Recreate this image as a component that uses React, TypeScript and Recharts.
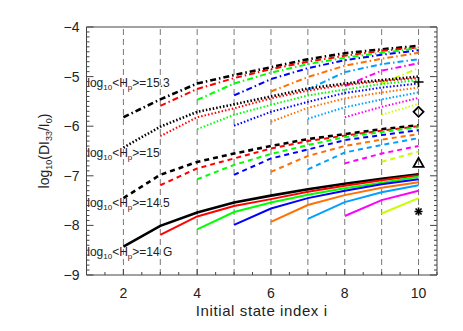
import React from 'react';
import { ComposedChart, Line, Scatter, XAxis, YAxis, ReferenceLine } from 'recharts';

// start index of each curve, and its colour
const startIdx = [2, 3, 4, 5, 6, 7, 8, 9];
const lineColors = ['#000000', '#ff0000', '#00ff00', '#0000ff', '#ff7000', '#00a0ff', '#ff00ff', '#c8ff00'];

// log10(DI33/I0) from start index up to i = 10, one row per start index
const hp14 = [
  [-8.43, -8.01, -7.74, -7.54, -7.40, -7.27, -7.16, -7.06, -6.97],
  [-8.19, -7.82, -7.61, -7.47, -7.32, -7.20, -7.09, -6.99],
  [-8.08, -7.73, -7.54, -7.38, -7.25, -7.14, -7.02],
  [-7.99, -7.66, -7.45, -7.30, -7.17, -7.07],
  [-7.93, -7.59, -7.39, -7.24, -7.13],
  [-7.87, -7.53, -7.33, -7.19],
  [-7.81, -7.49, -7.30],
  [-7.76, -7.45],
];
const hp145 = [
  [-7.45, -6.98, -6.72, -6.55, -6.40, -6.26, -6.16, -6.06, -5.98],
  [-7.19, -6.85, -6.65, -6.45, -6.30, -6.19, -6.09, -6.00],
  [-7.07, -6.78, -6.56, -6.38, -6.22, -6.12, -6.02],
  [-6.98, -6.65, -6.47, -6.28, -6.18, -6.08],
  [-6.92, -6.60, -6.40, -6.27, -6.16],
  [-6.87, -6.53, -6.38, -6.24],
  [-6.75, -6.55, -6.40],
  [-6.72, -6.51],
];
const hp15 = [
  [-6.43, -6.01, -5.71, -5.56, -5.40, -5.24, -5.14, -5.07, -5.00],
  [-6.20, -5.82, -5.64, -5.44, -5.28, -5.17, -5.09, -5.03],
  [-6.06, -5.77, -5.57, -5.38, -5.26, -5.15, -5.07],
  [-5.99, -5.71, -5.51, -5.33, -5.22, -5.14],
  [-5.91, -5.63, -5.44, -5.32, -5.22],
  [-5.85, -5.62, -5.46, -5.32],
  [-5.82, -5.61, -5.43],
  [-5.77, -5.55],
];
const hp153 = [
  [-5.82, -5.46, -5.14, -4.97, -4.81, -4.65, -4.53, -4.45, -4.38],
  [-5.59, -5.25, -5.03, -4.85, -4.70, -4.58, -4.48, -4.41],
  [-5.47, -5.14, -4.92, -4.75, -4.62, -4.52, -4.43],
  [-5.38, -5.05, -4.83, -4.67, -4.56, -4.47],
  [-5.30, -5.01, -4.78, -4.64, -4.52],
  [-5.26, -4.91, -4.75, -4.65],
  [-5.19, -4.88, -4.73],
  [-5.14, -4.83],
];

const groups = [
  { name: '15.3', rows: hp153, dash: '6 3 1.5 3' },
  { name: '15', rows: hp15, dash: '1.5 2' },
  { name: '14.5', rows: hp145, dash: '5 4' },
  { name: '14', rows: hp14, dash: undefined as string | undefined },
];

const markers = [
  { x: 10, y: -5.11, kind: 'plus' },
  { x: 10, y: -5.71, kind: 'diamond' },
  { x: 10, y: -6.74, kind: 'triangle' },
  { x: 10, y: -7.72, kind: 'star' },
];

const hpLabels = [
  { x: 1.02, y: -5.13, value: '15.3', extra: '' },
  { x: 1.02, y: -6.54, value: '15', extra: '' },
  { x: 1.02, y: -7.55, value: '14.5', extra: '' },
  { x: 1.02, y: -8.53, value: '14', extra: ' G' },
];

const gridX = [2, 3, 4, 5, 6, 7, 8, 9, 10];
const xTicks = Array.from({ length: 20 }, (_, k) => 1 + k * 0.5);
const yTicks = Array.from({ length: 51 }, (_, k) => -9 + k * 0.1);

const AX = '#444';
const FONT = '"Liberation Sans", Arial, sans-serif';
const isInt = (v: number) => Math.abs(v - Math.round(v)) < 1e-6;
const isMajorX = (v: number) => isInt(v) && Math.round(v) % 2 === 0;
const fmtY = (v: number) => '\u2212' + Math.abs(Math.round(v));

const BottomTick = ({ x, y, payload }: any) => {
  const v = payload.value;
  const major = isMajorX(v);
  return (
    <g>
      <line x1={x} x2={x} y1={y} y2={y - (major ? 6 : 3)} stroke={AX} />
      {major && (
        <text x={x} y={y + 23} textAnchor="middle" fontSize={14} fill="#222" fontFamily={FONT}>
          {Math.round(v)}
        </text>
      )}
    </g>
  );
};
const TopTick = ({ x, y, payload }: any) => {
  const major = isMajorX(payload.value);
  return <line x1={x} x2={x} y1={y} y2={y + (major ? 6 : 3)} stroke={AX} />;
};
const LeftTick = ({ x, y, payload }: any) => {
  const v = payload.value;
  const major = isInt(v);
  return (
    <g>
      <line x1={x} x2={x + (major ? 7 : 3)} y1={y} y2={y} stroke={AX} />
      {major && (
        <text x={x - 7} y={y + 5} textAnchor="end" fontSize={14} fill="#222" fontFamily={FONT}>
          {fmtY(v)}
        </text>
      )}
    </g>
  );
};
const RightTick = ({ x, y, payload }: any) => {
  const major = isInt(payload.value);
  return <line x1={x} x2={x - (major ? 7 : 3)} y1={y} y2={y} stroke={AX} />;
};

const MarkerShape = (props: any) => {
  const { cx, cy, payload } = props;
  const s = 5;
  switch (payload.kind) {
    case 'plus':
      return (
        <g stroke="#000" strokeWidth={1.5}>
          <line x1={cx - s} x2={cx + s} y1={cy} y2={cy} />
          <line x1={cx} x2={cx} y1={cy - s} y2={cy + s} />
        </g>
      );
    case 'diamond':
      return <polygon points={`${cx},${cy - s} ${cx + s},${cy} ${cx},${cy + s} ${cx - s},${cy}`} fill="none" stroke="#000" strokeWidth={1.8} />;
    case 'triangle':
      return <polygon points={`${cx},${cy - s} ${cx + s},${cy + s * 0.8} ${cx - s},${cy + s * 0.8}`} fill="none" stroke="#000" strokeWidth={1.8} />;
    default:
      return (
        <g stroke="#000" strokeWidth={1.6}>
          <line x1={cx - 4} x2={cx + 4} y1={cy} y2={cy} />
          <line x1={cx} x2={cx} y1={cy - 4} y2={cy + 4} />
          <line x1={cx - 3} x2={cx + 3} y1={cy - 3} y2={cy + 3} />
          <line x1={cx - 3} x2={cx + 3} y1={cy + 3} y2={cy - 3} />
        </g>
      );
  }
};

const LabelShape = (props: any) => {
  const { cx, cy, payload } = props;
  return (
    <text x={cx} y={cy + 4} fontSize={12} fill="#222" fontFamily={FONT}>
      log
      <tspan fontSize={8} dy={3}>10</tspan>
      <tspan dy={-3}>{'<H'}</tspan>
      <tspan fontSize={8} dy={3}>p</tspan>
      <tspan dy={-3}>{'>=' + payload.value + payload.extra}</tspan>
    </text>
  );
};

const XLabel = ({ viewBox }: any) => (
  <text x={viewBox.x + viewBox.width / 2} y={viewBox.y + 41} textAnchor="middle" fontSize={15} letterSpacing={0.6} fill="#222" fontFamily={FONT}>
    Initial state index i
  </text>
);

const YLabel = ({ viewBox }: any) => {
  const cx = viewBox.x + 49;
  const cy = viewBox.y + viewBox.height / 2;
  return (
    <text x={cx} y={cy} transform={`rotate(-90 ${cx} ${cy})`} textAnchor="middle" fontSize={14} fill="#222" fontFamily={FONT}>
      log
      <tspan fontSize={9} dy={3}>10</tspan>
      <tspan dy={-3}>(DI</tspan>
      <tspan fontSize={9} dy={3}>33</tspan>
      <tspan dy={-3}>/I</tspan>
      <tspan fontSize={9} dy={3}>0</tspan>
      <tspan dy={-3}>)</tspan>
    </text>
  );
};

export default function App() {
  return (
    <div style={{ position: 'absolute', left: 0, top: 0, background: '#fff' }}>
      <ComposedChart width={463} height={331} margin={{ top: 0, right: 0, bottom: 0, left: 0 }}>
        <XAxis
          xAxisId="b"
          type="number"
          dataKey="x"
          domain={[1, 10.5]}
          allowDataOverflow
          ticks={xTicks}
          interval={0}
          height={56}
          tickSize={0}
          tickMargin={0}
          tickLine={false}
          tick={<BottomTick />}
          axisLine={{ stroke: AX }}
          label={<XLabel />}
        />
        <XAxis
          xAxisId="t"
          orientation="top"
          type="number"
          domain={[1, 10.5]}
          allowDataOverflow
          ticks={xTicks}
          interval={0}
          height={27}
          tickSize={0}
          tickMargin={0}
          tickLine={false}
          tick={<TopTick />}
          axisLine={{ stroke: AX }}
        />
        <YAxis
          yAxisId="l"
          type="number"
          dataKey="y"
          domain={[-9, -4]}
          allowDataOverflow
          ticks={yTicks}
          interval={0}
          width={86.5}
          tickSize={0}
          tickMargin={0}
          tickLine={false}
          tick={<LeftTick />}
          axisLine={{ stroke: AX }}
          label={<YLabel />}
        />
        <YAxis
          yAxisId="r"
          orientation="right"
          type="number"
          domain={[-9, -4]}
          allowDataOverflow
          ticks={yTicks}
          interval={0}
          width={26}
          tickSize={0}
          tickMargin={0}
          tickLine={false}
          tick={<RightTick />}
          axisLine={{ stroke: AX }}
        />
        {gridX.map((gx) => (
          <ReferenceLine key={`g${gx}`} x={gx} xAxisId="b" yAxisId="l" stroke="#777" strokeDasharray="6 4" strokeWidth={1} />
        ))}
        {groups.map((g) =>
          g.rows.map((row, k) => (
            <Line
              key={`${g.name}-${k}`}
              xAxisId="b"
              yAxisId="l"
              data={row.map((v, j) => ({ x: startIdx[k] + j, y: v }))}
              dataKey="y"
              stroke={lineColors[k]}
              strokeWidth={k === 0 ? 2.6 : 2}
              strokeDasharray={g.dash}
              dot={false}
              activeDot={false}
              type="linear"
              isAnimationActive={false}
            />
          ))
        )}
        <Scatter xAxisId="b" yAxisId="l" data={markers} dataKey="y" shape={<MarkerShape />} isAnimationActive={false} />
        <Scatter xAxisId="b" yAxisId="l" data={hpLabels} dataKey="y" shape={<LabelShape />} isAnimationActive={false} />
      </ComposedChart>
    </div>
  );
}
